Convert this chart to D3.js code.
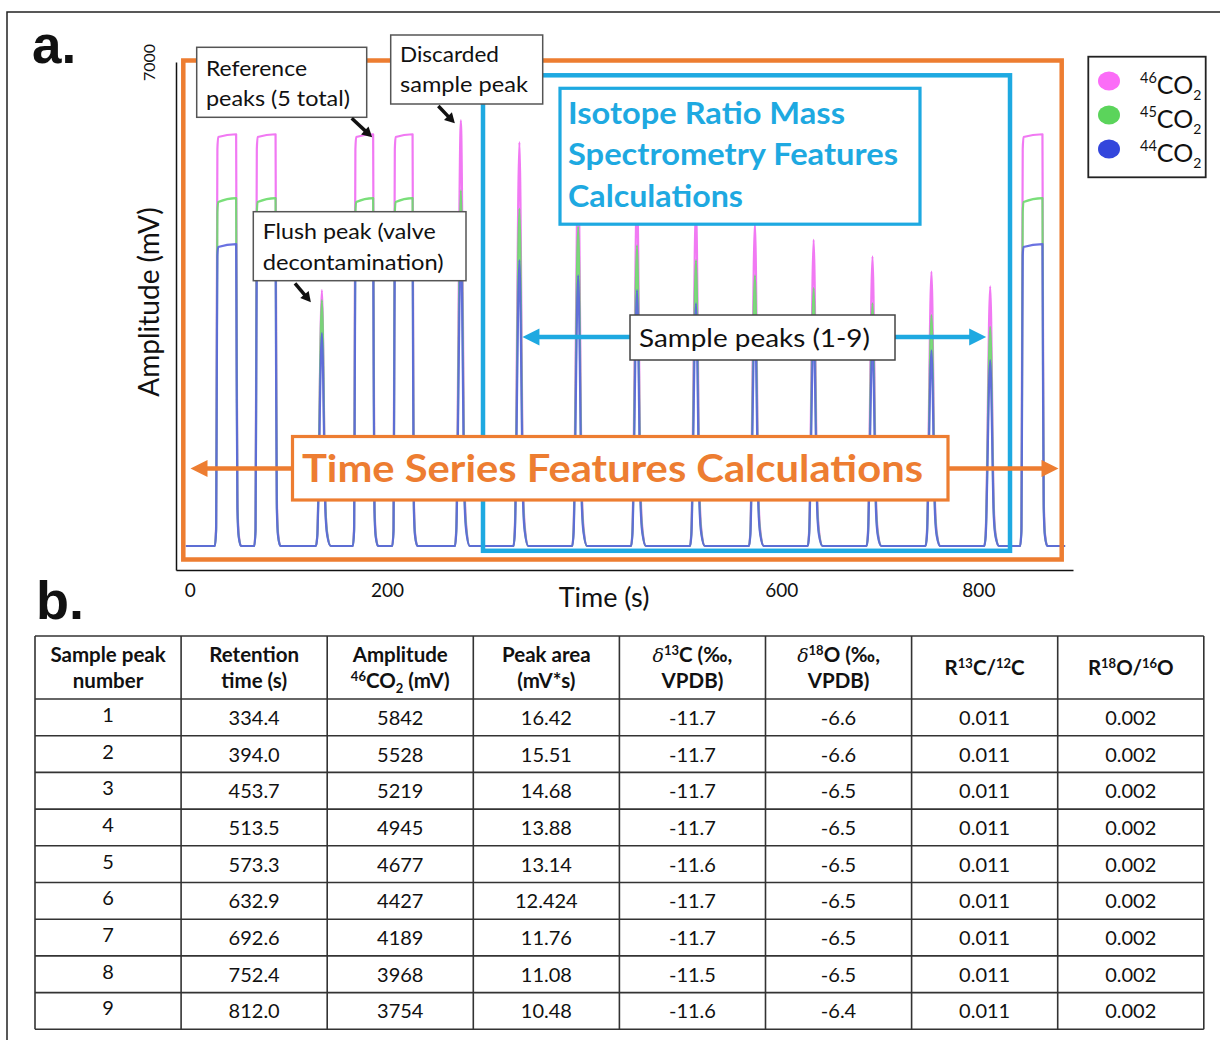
<!DOCTYPE html>
<html>
<head>
<meta charset="utf-8">
<script src="https://cdn.jsdelivr.net/npm/d3@7"></script>
<style>
  html, body { margin: 0; padding: 0; background: #fff; }
  svg { display: block; font-family: Lato, "Open Sans", sans-serif; }
</style>
</head>
<body>
<svg id="fig" width="1220" height="1040"></svg>
<script>
// ---- Sample peaks (table values) ----
const samplePeakNumbers = [1, 2, 3, 4, 5, 6, 7, 8, 9];
const retentionTimes = [334.4, 394.0, 453.7, 513.5, 573.3, 632.9, 692.6, 752.4, 812.0];
const amplitude46 = [5842, 5528, 5219, 4945, 4677, 4427, 4189, 3968, 3754];
const amplitude45 = [4880, 4620, 4350, 4135, 3915, 3730, 3510, 3340, 3170];
const amplitude44 = [4135, 3915, 3700, 3510, 3320, 3140, 2975, 2830, 2690];
const peakAreas = [16.42, 15.51, 14.68, 13.88, 13.14, 12.424, 11.76, 11.08, 10.48];
const delta13C = [-11.7, -11.7, -11.7, -11.7, -11.6, -11.7, -11.7, -11.5, -11.6];
const delta18O = [-6.6, -6.6, -6.5, -6.5, -6.5, -6.5, -6.5, -6.5, -6.4];
const ratio13C = [0.011, 0.011, 0.011, 0.011, 0.011, 0.011, 0.011, 0.011, 0.011];
const ratio18O = [0.002, 0.002, 0.002, 0.002, 0.002, 0.002, 0.002, 0.002, 0.002];

// ---- Reference gas peaks: plateau start / end (s) and plateau level at start / end (mV) ----
const refStarts = [28, 68, 168, 208, 845];
const refEnds = [47, 87, 186, 226, 865];
const refLevel46 = [5915, 5955];
const refLevel45 = [4975, 5030];
const refLevel44 = [4325, 4365];

// ---- Flush peak and discarded sample peak ----
const extraTimes = [134, 275];
const extraAmp46 = [3700, 6156];
const extraAmp45 = [3555, 5145];
const extraAmp44 = [3080, 4370];

// ---- Axis ticks ----
const xTicks = [0, 200, 600, 800];
const yTicks = [7000];

// Peak outline templates: [time offset (s), fraction of peak height]
const spikeShape = [[-6, 0], [-4.6, 0.05], [0, 1], [3.6, 0.16], [5.4, 0.05], [9, 0]];
const plateauRise = [[-2.6, 0], [-1.3, 0.05], [-0.6, 0.55], [0, 0.97], [0.8, 1]];
const plateauFall = [[0, 1], [0.5, 0.6], [1.3, 0.12], [2.6, 0.03], [5, 0]];

const isotopes = [
  { key: "46", color: "#f06af2", spike: amplitude46, ref: refLevel46, extra: extraAmp46 },
  { key: "45", color: "#6cdb6c", spike: amplitude45, ref: refLevel45, extra: extraAmp45 },
  { key: "44", color: "#5a63de", spike: amplitude44, ref: refLevel44, extra: extraAmp44 }
];

const svg = d3.select("#fig");
const W = 1220, H = 1040;
svg.append("rect").attr("width", W).attr("height", H).attr("fill", "#fff");
// figure frame
svg.append("rect").attr("x", 7).attr("y", 12).attr("width", W + 20).attr("height", H + 20)
  .attr("fill", "none").attr("stroke", "#222").attr("stroke-width", 1.5);

// ---- Scales ----
const x = d3.scaleLinear().domain([-14, 896]).range([176, 1073]);
const y = d3.scaleLinear().domain([-347, 7000]).range([570, 62]);

// ---- Build one trace per isotope ----
function tracePoints(iso) {
  const pieces = [];
  refStarts.forEach((s, i) => {
    const e = refEnds[i];
    const pts = [];
    plateauRise.forEach(([dt, f]) => pts.push([s + dt, f * iso.ref[0]]));
    plateauFall.forEach(([dt, f]) => pts.push([e + dt, f * iso.ref[1]]));
    pieces.push({ t: s, pts });
  });
  extraTimes.forEach((t, i) => {
    pieces.push({ t, pts: spikeShape.map(([dt, f]) => [t + dt, f * iso.extra[i]]) });
  });
  retentionTimes.forEach((t, i) => {
    pieces.push({ t, pts: spikeShape.map(([dt, f]) => [t + dt, f * iso.spike[i]]) });
  });
  pieces.sort((a, b) => a.t - b.t);
  const all = [[-4, 0]];
  pieces.forEach(p => all.push(...p.pts));
  all.push([888, 0]);
  return all;
}

const line = d3.line().x(d => x(d[0])).y(d => y(d[1])).curve(d3.curveMonotoneX);
const gTrace = svg.append("g");
isotopes.forEach(iso => {
  gTrace.append("path")
    .attr("d", line(tracePoints(iso)))
    .attr("fill", "none")
    .attr("stroke", iso.color)
    .attr("stroke-width", 2.2)
    .attr("stroke-linejoin", "round")
    .attr("opacity", 0.9);
});

// ---- Axes ----
const gx = svg.append("g").attr("transform", "translate(0,570)")
  .call(d3.axisBottom(x).tickValues(xTicks).tickSize(0).tickPadding(14).tickFormat(d3.format("d")));
gx.attr("font-family", "Lato, sans-serif").attr("font-size", 19);
gx.select(".domain").attr("stroke", "#111").attr("stroke-width", 1.5);
gx.selectAll("text").attr("fill", "#111");

const gy = svg.append("g").attr("transform", "translate(176,0)")
  .call(d3.axisLeft(y).tickValues(yTicks).tickSize(0).tickFormat(d3.format("d")));
gy.attr("font-family", "Lato, sans-serif").attr("font-size", 16);
gy.select(".domain").attr("stroke", "#111").attr("stroke-width", 1.5);
gy.selectAll(".tick text")
  .attr("x", 0).attr("y", -21).attr("dy", 0)
  .attr("text-anchor", "middle")
  .attr("transform", "rotate(-90)")
  .attr("fill", "#111");

svg.append("text").attr("transform", "translate(159,302) rotate(-90)")
  .attr("text-anchor", "middle").attr("font-size", 28).attr("fill", "#111")
  .text("Amplitude (mV)");
svg.append("text").attr("x", 604).attr("y", 607).attr("text-anchor", "middle")
  .attr("font-size", 27).attr("fill", "#111").text("Time (s)");

// ---- Panel letters ----
svg.append("text").attr("x", 32).attr("y", 63).attr("font-family", "'Liberation Sans', Arial, sans-serif")
  .attr("font-weight", "bold").attr("font-size", 53).attr("fill", "#111").text("a.");
svg.append("text").attr("x", 36).attr("y", 619).attr("font-family", "'Liberation Sans', Arial, sans-serif")
  .attr("font-weight", "bold").attr("font-size", 54).attr("fill", "#111").text("b.");

// ---- Region frames ----
const ORANGE = "#ed7d31", CYAN = "#1ea9e1";
svg.append("rect").attr("x", 183.3).attr("y", 60.5).attr("width", 1061.7 - 183.3).attr("height", 559.5 - 60.5)
  .attr("fill", "none").attr("stroke", ORANGE).attr("stroke-width", 4.5);
svg.append("rect").attr("x", 483).attr("y", 75.3).attr("width", 1010 - 483).attr("height", 550.8 - 75.3)
  .attr("fill", "none").attr("stroke", CYAN).attr("stroke-width", 4.5);

function arrow(x1, y1, x2, y2, color, w, headLen, headHalf) {
  const dx = x2 - x1, dy = y2 - y1, L = Math.hypot(dx, dy);
  const ux = dx / L, uy = dy / L;
  const bx = x2 - ux * headLen, by = y2 - uy * headLen;
  svg.append("line").attr("x1", x1).attr("y1", y1).attr("x2", bx + ux * 1).attr("y2", by + uy * 1)
    .attr("stroke", color).attr("stroke-width", w);
  svg.append("path")
    .attr("d", `M${x2},${y2}L${bx - uy * headHalf},${by + ux * headHalf}L${bx + uy * headHalf},${by - ux * headHalf}Z`)
    .attr("fill", color);
}

function fitText(sel, len) {
  return sel.attr("textLength", len).attr("lengthAdjust", "spacingAndGlyphs");
}

// Time series box + arrows
arrow(292, 468.5, 190.5, 468.5, ORANGE, 4.5, 17, 8.5);
arrow(948, 468.5, 1058.5, 468.5, ORANGE, 4.5, 17, 8.5);
svg.append("rect").attr("x", 292.5).attr("y", 436.5).attr("width", 948 - 292.5).attr("height", 500 - 436.5)
  .attr("fill", "#fff").attr("stroke", ORANGE).attr("stroke-width", 3.2);
fitText(svg.append("text").attr("x", 302).attr("y", 482).attr("font-size", 38).attr("font-weight", "bold")
  .attr("fill", ORANGE).text("Time Series Features Calculations"), 621);

// Isotope ratio box
svg.append("rect").attr("x", 560).attr("y", 88.3).attr("width", 920 - 560).attr("height", 224.2 - 88.3)
  .attr("fill", "#fff").attr("stroke", CYAN).attr("stroke-width", 3.2);
const isoLines = ["Isotope Ratio Mass", "Spectrometry Features", "Calculations"];
const isoLens = [277, 330, 175];
isoLines.forEach((t, i) => {
  fitText(svg.append("text").attr("x", 568).attr("y", 123.5 + i * 41.7).attr("font-size", 30.5)
    .attr("font-weight", "bold").attr("fill", CYAN).text(t), isoLens[i]);
});

// Sample peaks label + arrows
arrow(630, 337, x(retentionTimes[0]) + 3, 337, CYAN, 4.5, 17, 8.5);
arrow(895, 337, x(retentionTimes[8]) - 4, 337, CYAN, 4.5, 17, 8.5);
svg.append("rect").attr("x", 630).attr("y", 315).attr("width", 895 - 630).attr("height", 360 - 315)
  .attr("fill", "#fff").attr("stroke", "#444").attr("stroke-width", 1.5);
fitText(svg.append("text").attr("x", 639).attr("y", 347).attr("font-size", 25.5).attr("fill", "#111")
  .text("Sample peaks (1-9)"), 231);

// ---- Callouts ----
function callout(x0, y0, x1, y1, lines, lens, tx, ty, lh) {
  svg.append("rect").attr("x", x0).attr("y", y0).attr("width", x1 - x0).attr("height", y1 - y0)
    .attr("fill", "#fff").attr("stroke", "#555").attr("stroke-width", 1.5);
  lines.forEach((t, i) => fitText(svg.append("text").attr("x", tx).attr("y", ty + i * lh)
    .attr("font-size", 21).attr("fill", "#111").text(t), lens[i]));
}
callout(196.7, 47.3, 366.7, 117.3, ["Reference", "peaks (5 total)"], [101, 144], 206, 76, 29.5);
callout(390.7, 35, 542.7, 104, ["Discarded", "sample peak"], [99, 128], 400, 62, 30);
callout(253.3, 211.7, 466, 280.7, ["Flush peak (valve", "decontamination)"], [173, 181], 262.7, 238.5, 31.5);

// Black pointer arrows to the annotated peaks
arrow(351.7, 118.3, x(refEnds[2]) - 1, y(refLevel46[1]) + 3, "#111", 3.5, 10, 5.5);
arrow(438.3, 106, x(extraTimes[1]) - 6, y(extraAmp46[1]) + 3, "#111", 3.5, 10, 5.5);
arrow(295, 283.3, x(extraTimes[0]) - 11, y(extraAmp46[0]) + 12, "#111", 3.5, 10, 5.5);

// ---- Legend ----
svg.append("rect").attr("x", 1088.3).attr("y", 56.7).attr("width", 1205.7 - 1088.3).attr("height", 177.3 - 56.7)
  .attr("fill", "#fff").attr("stroke", "#222").attr("stroke-width", 1.8);
const legendColors = ["#fb6cf7", "#5bd45b", "#3346dc"];
isotopes.forEach((iso, i) => {
  const cy = 81 + i * 34;
  svg.append("ellipse").attr("cx", 1109).attr("cy", cy).attr("rx", 11).attr("ry", 9.5).attr("fill", legendColors[i]);
  const t = svg.append("text").attr("x", 1140).attr("y", cy + 12.5).attr("fill", "#111");
  t.append("tspan").attr("font-size", 14.5).attr("dy", -11).text(iso.key);
  t.append("tspan").attr("font-size", 25).attr("dy", 11).text("CO");
  t.append("tspan").attr("font-size", 14).attr("dy", 6).text("2");
});

// ---- Table ----
const tableLeft = 35, colW = 146.1, headTop = 636, headBottom = 699, rowH = 36.7;
const nCols = 8, nRows = samplePeakNumbers.length;
const tableRight = tableLeft + nCols * colW, tableBottom = headBottom + nRows * rowH;

const headers = [
  [[["Sample peak"]], [["number"]]],
  [[["Retention"]], [["time (s)"]]],
  [[["Amplitude"]], [["46", "sup"], ["CO"], ["2", "sub"], [" (mV)"]]],
  [[["Peak area"]], [["(mV*s)"]]],
  [[["δ", "it"], ["13", "sup"], ["C (‰,"]], [["VPDB)"]]],
  [[["δ", "it"], ["18", "sup"], ["O (‰,"]], [["VPDB)"]]],
  [[["R"], ["13", "sup"], ["C/"], ["12", "sup"], ["C"]]],
  [[["R"], ["18", "sup"], ["O/"], ["16", "sup"], ["O"]]]
];

const columns = [
  samplePeakNumbers.map(String),
  retentionTimes.map(v => v.toFixed(1)),
  amplitude46.map(String),
  peakAreas.map(String),
  delta13C.map(v => v.toFixed(1)),
  delta18O.map(v => v.toFixed(1)),
  ratio13C.map(String),
  ratio18O.map(String)
];

const gTab = svg.append("g");
// grid lines
const hLines = [headTop, headBottom].concat(d3.range(1, nRows + 1).map(i => headBottom + i * rowH));
gTab.selectAll("line.h").data(hLines).join("line")
  .attr("x1", tableLeft).attr("x2", tableRight).attr("y1", d => d).attr("y2", d => d)
  .attr("stroke", "#333").attr("stroke-width", 1.6);
gTab.selectAll("line.v").data(d3.range(nCols + 1)).join("line")
  .attr("x1", d => tableLeft + d * colW).attr("x2", d => tableLeft + d * colW)
  .attr("y1", headTop).attr("y2", tableBottom)
  .attr("stroke", "#333").attr("stroke-width", 1.6);

// header text
headers.forEach((lines, c) => {
  const cx = tableLeft + (c + 0.5) * colW;
  const baselines = lines.length === 2 ? [662, 688] : [675];
  lines.forEach((segs, li) => {
    const t = gTab.append("text").attr("x", cx).attr("y", baselines[li]).attr("text-anchor", "middle")
      .attr("font-size", 20.5).attr("font-weight", "bold").attr("fill", "#111");
    let shift = 0;
    segs.forEach(([txt, kind]) => {
      const sp = t.append("tspan").text(txt);
      let target = 0;
      if (kind === "sup") { sp.attr("font-size", 13); target = -7.5; }
      else if (kind === "sub") { sp.attr("font-size", 13); target = 5; }
      if (kind === "it") sp.attr("font-style", "italic").attr("font-weight", "normal")
        .attr("font-family", "'DejaVu Serif', serif").attr("font-size", 19);
      sp.attr("dy", target - shift);
      shift = target;
    });
  });
});

// body text
columns.forEach((vals, c) => {
  const cx = tableLeft + (c + 0.5) * colW;
  gTab.selectAll(null).data(vals).join("text")
    .attr("x", cx)
    .attr("y", (d, r) => headBottom + (r + 0.5) * rowH + (c === 0 ? 4.5 : 7.5))
    .attr("text-anchor", "middle").attr("font-size", 20).attr("fill", "#111")
    .text(d => d);
});
</script>
</body>
</html>
